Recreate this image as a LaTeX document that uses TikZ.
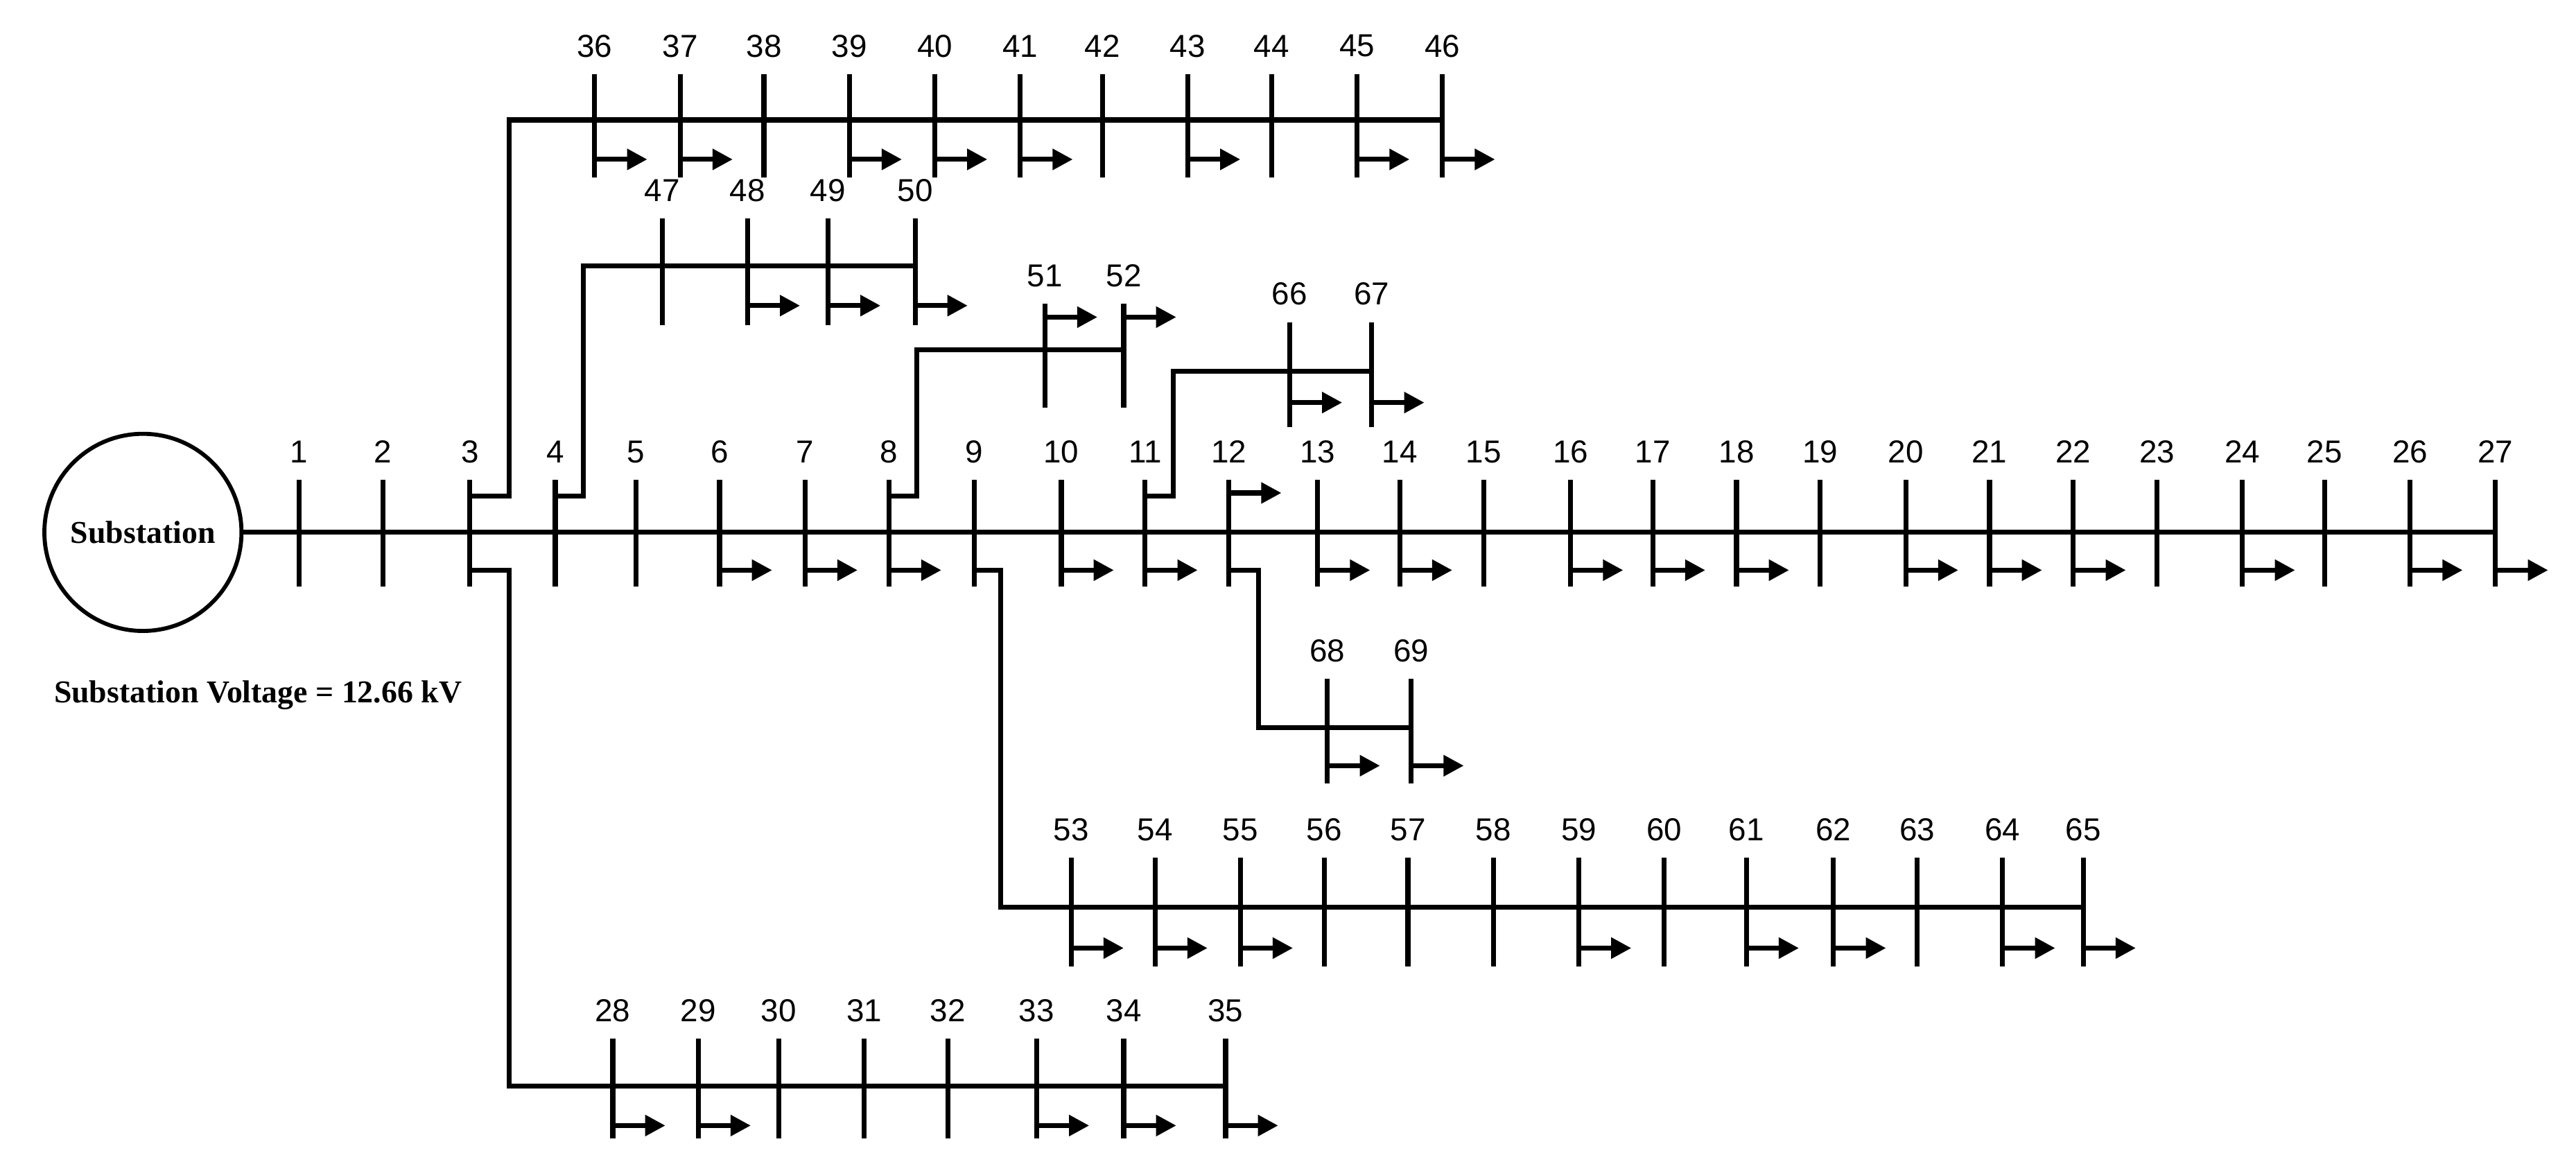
\documentclass[tikz,border=0pt]{standalone}
\usepackage{fontspec}
\setmainfont{Liberation Sans}
\newfontfamily\serifb{Liberation Serif}
\usetikzlibrary{arrows.meta}
\begin{document}
\begin{tikzpicture}[x=0.02cm,y=-0.02cm,line width=1.7pt,
  lbl/.style={font=\fontsize{11}{13}\selectfont,inner sep=0pt},
  ld/.style={-{Triangle[length=7pt,width=7pt]}}]
\useasboundingbox (0,0) rectangle (1568,707);
% substation
\node[draw,circle,minimum size=2.4cm,line width=1.4pt,font=\serifb\bfseries\fontsize{11}{13}\selectfont] (sub) at (87,324) {Substation};
\node[font=\serifb\bfseries\fontsize{11}{13}\selectfont] (sv) at (157,423) {Substation Voltage = 12.66 kV};
% generic bus drawing: name/x pairs; args: y of tick top, bottom, label y
\newcommand\mybuses[4]{%
  \foreach \n/\x in {#1}{%
    \coordinate (b\n) at (\x,#4);
    \draw (\x,#2) -- (\x,#3);
    \node[lbl] (t\n) at (\x,#2-17) {\n};
  }}
\newcommand\myloads[3]{%
  \foreach \x in {#1}{\coordinate (l\x) at (\x,#2); \draw[ld] (l\x) -- ++(#3,0);}}
% main feeder
\mybuses{1/182,2/233,3/286,4/338,5/387,6/438,7/490,8/541,9/593,10/646,11/697,12/748,13/802,14/852,15/903,16/956,17/1006,18/1057,19/1108,20/1160,21/1211,22/1262,23/1313,24/1365,25/1415,26/1467,27/1519}{292}{357}{324}
\draw (sub.east) -- (b27);
\myloads{438,490,541,646,697,802,852,956,1006,1057,1160,1211,1262,1365,1467,1519}{347}{32}
\myloads{748}{300}{32}
% top feeder 36-46
\mybuses{36/362,37/414,38/465,39/517,40/569,41/621,42/671,43/723,44/774,45/826,46/878}{45}{108}{73}
\coordinate (j3a) at (286,302);
\draw (j3a) -| (310,73) -- (b46);
\myloads{362,414,517,569,621,723,826,878}{97}{32}
% feeder 47-50
\mybuses{47/403,48/455,49/504,50/557}{133}{198}{162}
\coordinate (j4) at (338,302);
\draw (j4) -| (355,162) -- (b50);
\myloads{455,504,557}{186}{32}
% feeder 51-52
\mybuses{51/636,52/684}{185}{248}{213}
\coordinate (j8) at (541,302);
\draw (j8) -| (558,213) -- (b52);
\myloads{636,684}{193}{32}
% feeder 66-67
\mybuses{66/785,67/835}{196}{260}{226}
\coordinate (j11) at (697,302);
\draw (j11) -| (714,226) -- (b67);
\myloads{785,835}{245}{32}
% feeder 68-69
\mybuses{68/808,69/859}{413}{477}{443}
\coordinate (j12) at (748,347);
\draw (j12) -| (766,443) -- (b69);
\myloads{808,859}{466}{32}
% feeder 53-65
\mybuses{53/652,54/703,55/755,56/806,57/857,58/909,59/961,60/1013,61/1063,62/1116,63/1167,64/1219,65/1268}{522}{588}{552}
\coordinate (j9) at (593,347);
\draw (j9) -| (609,552) -- (b65);
\myloads{652,703,755,961,1063,1116,1219,1268}{577}{32}
% bottom feeder 28-35
\mybuses{28/373,29/425,30/474,31/526,32/577,33/631,34/684,35/746}{632}{693}{661}
\coordinate (j3b) at (286,347);
\draw (j3b) -| (310,661) -- (b35);
\myloads{373,425,631,684,746}{685}{32}
\end{tikzpicture}
\end{document}
